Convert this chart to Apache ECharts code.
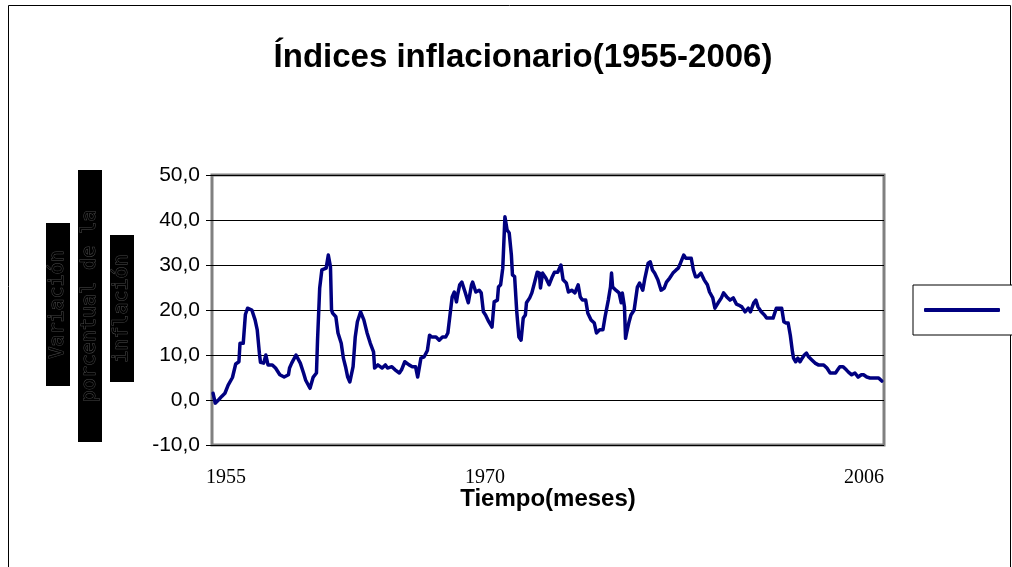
<!DOCTYPE html>
<html>
<head>
<meta charset="utf-8">
<script src="https://cdn.jsdelivr.net/npm/echarts@6/dist/echarts.min.js"></script>
<style>
  html, body { margin: 0; padding: 0; background: #fff; }
  #chart { width: 1012px; height: 567px; }
</style>
</head>
<body>
<div id="chart"></div>
<script>
// meses desde ene-1955
var months = [1, 3, 6, 9, 12, 15, 19, 22, 25, 26, 29, 31, 33, 37, 40, 42, 44, 45, 48, 50,
  52, 56, 59, 63, 67, 71, 72, 74, 78, 82, 85, 87, 91, 94, 97, 98, 100, 102, 106, 108,
  110, 111, 112, 115, 117, 120, 122, 124, 126, 128, 131, 133, 135, 138, 141, 144, 147, 150, 151, 154,
  158, 161, 163, 167, 170, 174, 176, 179, 183, 186, 189, 191, 194, 197, 200, 202, 204, 208, 211, 214,
  217, 219, 221, 223, 225, 227, 228, 230, 232, 235, 238, 241, 242, 245, 248, 250, 252, 254, 257, 260,
  262, 265, 266, 268, 270, 272, 274, 276, 278, 279, 281, 283, 285, 287, 289, 291, 292, 295, 297, 299,
  302, 304, 305, 307, 310, 313, 316, 318, 321, 324, 326, 329, 331, 334, 337, 340, 342, 344, 347, 349,
  352, 355, 357, 360, 363, 365, 368, 370, 371, 372, 375, 378, 380, 381, 383, 384, 385, 387, 389, 392,
  395, 397, 400, 402, 405, 407, 409, 411, 414, 417, 420, 422, 425, 428, 431, 433, 435, 438, 440, 445,
  447, 449, 451, 454, 457, 460, 462, 465, 467, 470, 473, 475, 478, 481, 484, 487, 489, 492, 495, 498,
  500, 503, 505, 507, 510, 513, 515, 521, 524, 527, 529, 531, 533, 535, 537, 539, 540, 542, 544, 546,
  548, 550, 552, 554, 557, 560, 563, 568, 571, 574, 579, 581, 583, 586, 589, 591, 594, 597, 600, 603,
  605, 608, 611, 619, 622];

var inflation = [1.5, -0.7, 0.0, 0.8, 1.5, 3.3, 5.0, 8.0, 8.5, 12.6, 12.6, 19.0, 20.4, 20.0, 17.8, 15.6, 10.4, 8.4, 8.2, 10.0,
  7.8, 7.8, 7.1, 5.6, 5.1, 5.6, 7.1, 8.2, 10.0, 8.2, 6.0, 4.4, 2.6, 5.1, 6.0, 13.3, 24.9, 28.9, 29.3, 32.2,
  29.6, 20.0, 19.3, 18.5, 14.9, 12.6, 9.3, 7.4, 5.1, 4.0, 7.4, 14.0, 17.4, 19.6, 17.8, 14.9, 12.6, 10.7, 7.1, 7.8,
  7.1, 7.8, 7.1, 7.4, 6.7, 6.0, 6.7, 8.5, 7.8, 7.4, 7.4, 5.1, 9.3, 9.6, 11.0, 14.4, 14.0, 14.0, 13.3, 14.0,
  14.0, 14.9, 18.9, 22.9, 24.0, 21.8, 23.3, 25.6, 26.2, 24.0, 21.6, 25.6, 26.2, 24.0, 24.4, 23.8, 19.6, 18.9, 17.4, 16.2,
  21.8, 22.2, 25.1, 25.6, 29.3, 40.7, 37.8, 37.1, 32.2, 27.8, 27.4, 19.6, 14.0, 13.3, 18.2, 18.9, 21.6, 22.7, 23.8, 25.6,
  28.4, 28.2, 24.9, 28.2, 27.1, 25.6, 27.4, 28.4, 28.4, 30.0, 26.7, 26.0, 24.0, 24.4, 23.8, 25.6, 22.9, 22.2, 22.2, 19.3,
  17.8, 17.1, 14.9, 15.6, 15.6, 18.5, 22.2, 25.1, 28.2, 25.1, 24.4, 23.8, 21.6, 23.8, 20.7, 13.7, 14.9, 17.1, 18.9, 20.0,
  25.1, 26.0, 24.4, 27.1, 30.4, 30.7, 28.9, 28.2, 26.7, 24.4, 24.9, 26.2, 27.1, 28.2, 28.9, 29.3, 30.4, 32.2, 31.5, 31.5,
  28.9, 27.4, 27.4, 28.2, 26.7, 25.6, 24.0, 22.7, 20.4, 21.6, 22.7, 23.8, 22.9, 22.2, 22.7, 21.3, 21.1, 20.7, 19.6, 20.4,
  19.6, 21.6, 22.2, 20.7, 19.6, 18.9, 18.2, 18.2, 20.4, 20.4, 20.4, 17.4, 17.1, 17.1, 14.4, 10.7, 9.3, 8.5, 9.3, 8.5,
  9.3, 10.0, 10.4, 9.6, 8.9, 8.2, 7.8, 7.8, 7.1, 6.0, 6.0, 6.7, 7.4, 7.4, 6.7, 6.2, 5.6, 6.0, 5.1, 5.6,
  5.6, 5.1, 4.9, 4.9, 4.2];

var yearLabels = ['1955', '1970', '2006'];
var yLabelLines = ['Variación', 'porcentual de la', 'inflación'];

var chart = echarts.init(document.getElementById('chart'));

var seriesData = months.map(function (m, i) { return [m, inflation[i]]; });

var sans = '"Liberation Sans", Arial, sans-serif';

// rótulo del eje Y (tres columnas negras)
var boxes = [
  { x: 46, y: 223, w: 24, h: 163 },
  { x: 78, y: 170, w: 24, h: 272 },
  { x: 110, y: 235, w: 24, h: 147 }
];
var graphics = [{
  type: 'rect',
  shape: { x: 8.5, y: 5.5, width: 1002, height: 600 },
  style: { fill: 'none', stroke: '#000', lineWidth: 1 },
  z: -1
}];
boxes.forEach(function (b, i) {
  graphics.push({
    type: 'rect',
    shape: { x: b.x, y: b.y, width: b.w, height: b.h },
    style: { fill: '#000' }
  });
  graphics.push({
    type: 'text',
    x: b.x + b.w / 2,
    y: b.y + b.h / 2,
    rotation: Math.PI / 2,
    style: {
      text: yLabelLines[i],
      fill: '#000',
      stroke: '#4a4a4a',
      lineWidth: 1,
      font: '20px "DejaVu Sans Mono", monospace',
      textAlign: 'center',
      textVerticalAlign: 'middle'
    }
  });
});
var yearX = [226, 485, 864];
yearLabels.forEach(function (t, i) {
  graphics.push({
    type: 'text',
    x: yearX[i],
    y: 478,
    style: {
      text: t,
      fill: '#000',
      font: '20px "Liberation Serif", "Times New Roman", serif',
      textAlign: 'center',
      textVerticalAlign: 'middle'
    }
  });
});

var option = {
  backgroundColor: '#fff',
  animation: false,
  title: {
    text: 'Índices inflacionario(1955-2006)',
    left: 518,
    top: 36,
    textAlign: 'center',
    textStyle: { fontFamily: sans, fontWeight: 'bold', fontSize: 33, color: '#000' }
  },
  legend: {
    left: 913,
    top: 285,
    padding: [18, 10, 18, 11],
    backgroundColor: '#fff',
    borderColor: '#000',
    borderWidth: 1,
    borderRadius: 0,
    itemWidth: 76,
    itemHeight: 4,
    icon: 'roundRect',
    textStyle: { fontSize: 14, color: '#000', padding: [0, 0, 0, 30] },
    data: ['Inflación']
  },
  grid: {
    left: 212,
    top: 175,
    width: 672,
    height: 270,
    show: true,
    borderColor: '#808080',
    borderWidth: 3,
    backgroundColor: '#fff'
  },
  xAxis: {
    type: 'value',
    min: 0,
    max: 624,
    name: 'Tiempo(meses)',
    nameLocation: 'middle',
    nameGap: 42,
    nameTextStyle: { fontFamily: sans, fontWeight: 'bold', fontSize: 24, color: '#000' },
    axisLine: { show: false },
    axisTick: { show: false },
    axisLabel: { show: false },
    splitLine: { show: false }
  },
  yAxis: {
    type: 'value',
    min: -10,
    max: 50,
    interval: 10,
    axisLine: { show: false },
    axisTick: { show: true, length: 6, lineStyle: { color: '#000', width: 1 } },
    axisLabel: {
      margin: 12,
      color: '#000',
      fontFamily: sans,
      fontSize: 21,
      formatter: function (v) { return v.toFixed(1).replace('.', ','); }
    },
    splitLine: { show: true, lineStyle: { color: '#000', width: 1 } }
  },
  series: [{
    name: 'Inflación',
    type: 'line',
    data: seriesData,
    showSymbol: false,
    symbol: 'none',
    color: '#000080',
    lineStyle: { color: '#000080', width: 3.5, cap: 'round', join: 'round' }
  }],
  graphic: graphics
};

chart.setOption(option);
</script>
</body>
</html>
